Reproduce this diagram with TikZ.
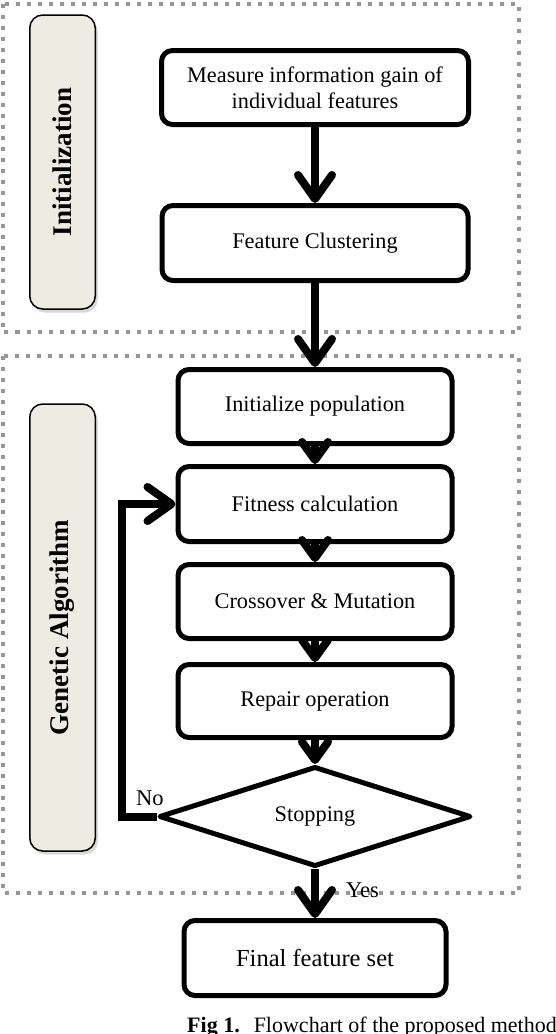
\documentclass[tikz,border=0pt]{standalone}
\usepackage{fontspec}
\setmainfont{Liberation Serif}
\usetikzlibrary{arrows.meta,shapes.geometric,shadows}
\definecolor{labelfill}{RGB}{237,235,226}
\definecolor{framegray}{RGB}{150,150,150}
\begin{document}
\begin{tikzpicture}[x=1pt,y=-1pt,
  stepbox/.style={draw, line width=5pt, rounded corners=11pt, inner sep=0pt, align=center, font=\fontsize{22.3}{26}\selectfont},
  labelshape/.style={draw, line width=1.5pt, fill=labelfill, rounded corners=13pt, inner sep=0pt, minimum width=65.5pt, drop shadow={shadow xshift=2.5pt, shadow yshift=-3.5pt, opacity=0.3}},
  labeltext/.style={rotate=90, inner sep=0pt, font=\fontsize{27}{30}\selectfont\bfseries},
  frame/.style={draw=framegray, line width=4pt, dash pattern=on 4pt off 7pt},
  conn/.style={line width=8pt},
  bigtip/.style={-{Straight Barb[length=24pt,width=34pt,round]}},
  smalltip/.style={-{Straight Barb[length=18pt,width=26pt,round]}},
  plaintext/.style={inner sep=0pt, font=\fontsize{22.5}{26}\selectfont},
]
\useasboundingbox (0,0) rectangle (556,1034);

% frames
\draw[frame] (3,3.5) rectangle (519,332);
\draw[frame] (3,356) rectangle (519,893);

% side labels
\node[labelshape, minimum height=294pt] (initbox) at (62.5,162) {};
\node[labeltext] (inittext) at (initbox.center) {Initialization};
\node[labelshape, minimum height=447pt] (gabox) at (62.5,627.5) {};
\node[labeltext] (gatext) at (gabox.center) {Genetic Algorithm};

% steps
\node[stepbox, minimum width=307pt, minimum height=74pt] (measure) at (315,87.5) {Measure information gain of\\individual features};
\node[stepbox, minimum width=306pt, minimum height=75pt] (cluster) at (315,243) {Feature Clustering};
\node[stepbox, minimum width=274pt, minimum height=74pt] (initpop) at (315,406.5) {Initialize population};
\node[stepbox, minimum width=274pt, minimum height=75pt] (fitness) at (315,504) {Fitness calculation};
\node[stepbox, minimum width=274pt, minimum height=74pt] (cross) at (315,601.5) {Crossover \& Mutation};
\node[stepbox, minimum width=274pt, minimum height=73pt] (repair) at (315,701) {Repair operation};
\node[draw, diamond, line width=5pt, line join=round, inner sep=0pt, minimum width=312pt, minimum height=92pt, font=\fontsize{22.3}{26}\selectfont] (stop) at (315,816.5) {Stopping};
\node[stepbox, minimum width=262pt, minimum height=75pt, font=\fontsize{24.5}{28}\selectfont] (final) at (315,958) {Final feature set};

% connectors
\draw[conn, bigtip] (measure) -- (cluster);
\draw[conn, bigtip] (cluster) -- (initpop);
\draw[conn, smalltip] (initpop) -- (fitness);
\draw[conn, smalltip] (fitness) -- (cross);
\draw[conn, smalltip] (cross) -- (repair);
\draw[conn, smalltip] (repair) -- (stop);
\draw[conn, bigtip] (stop) -- (final);
\coordinate (fbcorner) at (122,816.5);
\draw[conn, bigtip] (stop.west) -- (fbcorner) |- (fitness.west);

% labels
\node[plaintext, anchor=base west] (nolbl) at (136,805) {No};
\node[plaintext, anchor=base west] (yeslbl) at (346,897) {Yes};
\node[inner sep=0pt, anchor=base west, font=\fontsize{22}{26}\selectfont] (caption) at (187,1032) {\textbf{Fig 1.}\hspace{14pt}Flowchart of the proposed method};
\end{tikzpicture}
\end{document}
